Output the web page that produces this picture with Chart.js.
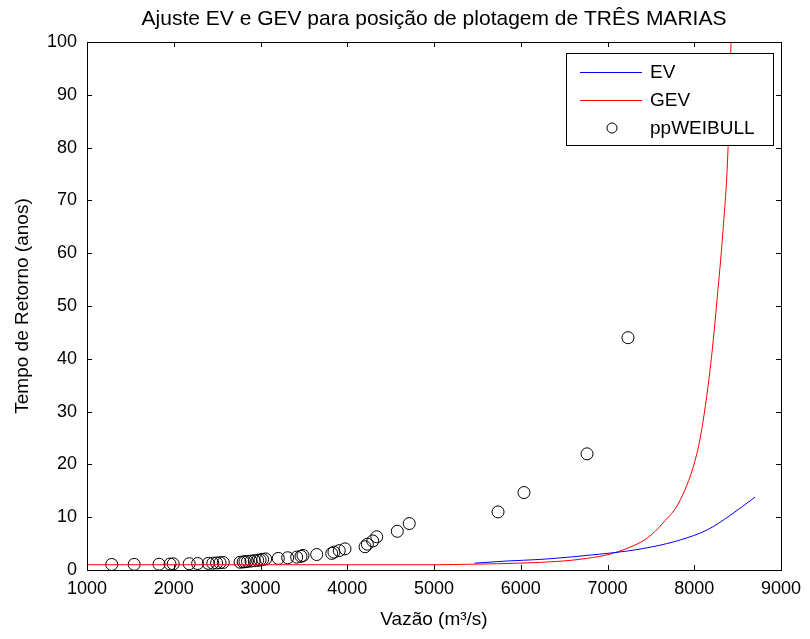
<!DOCTYPE html>
<html>
<head>
<meta charset="utf-8">
<script src="https://cdn.jsdelivr.net/npm/chart.js@4.4.1/dist/chart.umd.min.js"></script>
<style>
  html, body { margin: 0; padding: 0; background: #fff; }
  #wrap { width: 810px; height: 639px; }
</style>
</head>
<body>
<div id="wrap"><canvas id="chart" width="810" height="639"></canvas></div>
<script>
// x ticks / y ticks
const xTicks = [1000, 2000, 3000, 4000, 5000, 6000, 7000, 8000, 9000];
const yTicks = [0, 10, 20, 30, 40, 50, 60, 70, 80, 90, 100];

// EV fit (vazao, tempo de retorno)
const evX = [5470, 5840, 6220, 6600, 6910, 7230, 7520, 7840, 8150, 8410, 8700];
const evT = [1.3, 1.7, 2.0, 2.5, 3.0, 3.6, 4.4, 5.7, 7.6, 10.3, 13.8];

// GEV fit
const gevX = [1000, 5000, 5450, 5990, 6490, 6760, 7030, 7225, 7455, 7640, 7840, 8033, 8100, 8158, 8210, 8262, 8330, 8390, 8424, 8440];
const gevT = [1.0, 1.0, 1.1, 1.3, 1.7, 2.2, 3.0, 4.1, 6.0, 8.9, 13.3, 22.2, 28, 34.7, 42, 51.1, 64, 80, 100, 110];

// Weibull plotting positions
const ppX = [1285, 1544, 1830, 1957, 1994, 2178, 2275, 2398, 2450, 2494, 2533, 2571,
  2764, 2800, 2821, 2850, 2890, 2929, 2967, 2995, 3025, 3059, 3205, 3313, 3417,
  3467, 3490, 3648, 3821, 3847, 3908, 3974, 4205, 4232, 4294, 4340, 4577, 4715,
  5738, 6037, 6764, 7236];
const ppT = [1.05, 1.07, 1.1, 1.13, 1.16, 1.19, 1.22, 1.26, 1.29, 1.33, 1.375, 1.42,
  1.47, 1.52, 1.57, 1.63, 1.69, 1.76, 1.83, 1.91, 2.0, 2.1, 2.2, 2.32, 2.44,
  2.59, 2.75, 2.93, 3.14, 3.38, 3.67, 4.0, 4.4, 4.89, 5.5, 6.29, 7.33, 8.8,
  11, 14.67, 22, 44];

const TITLE = "Ajuste EV e GEV para posição de plotagem de TRÊS MARIAS";
const FONT = "Arial, 'Liberation Sans', sans-serif";

function pairs(xs, ys) {
  return xs.map((x, i) => ({ x: x, y: ys[i] }));
}

// MATLAB style box with inward ticks, centred title and boxed legend
const matlabBox = {
  id: "matlabBox",
  afterDatasetsDraw(chart) {
    const ctx = chart.ctx;
    const a = chart.chartArea;
    const xs = chart.scales.x;
    const ys = chart.scales.y;
    const tl = 5;
    ctx.save();
    ctx.strokeStyle = "#000";
    ctx.lineWidth = 1;
    ctx.beginPath();
    xTicks.forEach((v) => {
      const px = Math.round(xs.getPixelForValue(v)) + 0.5;
      ctx.moveTo(px, a.bottom); ctx.lineTo(px, a.bottom - tl);
      ctx.moveTo(px, a.top); ctx.lineTo(px, a.top + tl);
    });
    yTicks.forEach((v) => {
      const py = Math.round(ys.getPixelForValue(v)) + 0.5;
      ctx.moveTo(a.left, py); ctx.lineTo(a.left + tl, py);
      ctx.moveTo(a.right, py); ctx.lineTo(a.right - tl, py);
    });
    ctx.stroke();
    ctx.strokeRect(Math.round(a.left) + 0.5, Math.round(a.top) + 0.5,
      Math.round(a.right - a.left), Math.round(a.bottom - a.top));

    // title over the axes box
    ctx.fillStyle = "#000";
    ctx.font = "21px " + FONT;
    ctx.textAlign = "center";
    ctx.textBaseline = "middle";
    ctx.fillText(TITLE, (a.left + a.right) / 2, a.top - 23);

    // legend
    const lx = a.right - 215, ly = a.top + 11, lw = 207, lh = 92;
    ctx.fillStyle = "#fff";
    ctx.fillRect(lx, ly, lw, lh);
    ctx.strokeRect(lx + 0.5, ly + 0.5, lw, lh);
    const rows = chart.data.datasets;
    ctx.font = "19px " + FONT;
    ctx.textAlign = "left";
    rows.forEach((ds, i) => {
      const cy = ly + 19 + i * 28;
      if (ds.showLine) {
        ctx.strokeStyle = ds.borderColor;
        ctx.beginPath();
        ctx.moveTo(lx + 14, cy + 0.5);
        ctx.lineTo(lx + 76, cy + 0.5);
        ctx.stroke();
      } else {
        ctx.strokeStyle = "#000";
        ctx.beginPath();
        ctx.arc(lx + 46, cy, 5, 0, Math.PI * 2);
        ctx.stroke();
      }
      ctx.fillStyle = "#000";
      ctx.fillText(ds.label, lx + 84, cy + 1);
    });
    ctx.restore();
  },
};

new Chart(document.getElementById("chart"), {
  type: "scatter",
  data: {
    datasets: [
      {
        label: "EV",
        data: pairs(evX, evT),
        showLine: true,
        borderColor: "#0000ff",
        borderWidth: 1,
        pointRadius: 0,
        cubicInterpolationMode: "monotone",
      },
      {
        label: "GEV",
        data: pairs(gevX, gevT),
        showLine: true,
        borderColor: "#ff0000",
        borderWidth: 1,
        pointRadius: 0,
        cubicInterpolationMode: "monotone",
      },
      {
        label: "ppWEIBULL",
        data: pairs(ppX, ppT),
        showLine: false,
        borderColor: "#000",
        backgroundColor: "rgba(0,0,0,0)",
        borderWidth: 1,
        pointRadius: 6,
        pointStyle: "circle",
      },
    ],
  },
  options: {
    responsive: false,
    animation: false,
    layout: { padding: { top: 42, right: 29, bottom: 0, left: 0 } },
    plugins: {
      legend: { display: false },
      tooltip: { enabled: false },
      title: { display: false },
    },
    scales: {
      x: {
        type: "linear",
        min: 1000,
        max: 9000,
        afterFit: (s) => { s.height = 69; },
        afterBuildTicks: (s) => { s.ticks = xTicks.map((v) => ({ value: v })); },
        grid: { display: false, drawTicks: false },
        border: { display: false },
        ticks: {
          color: "#000",
          padding: 8,
          font: { size: 18, family: FONT },
          maxRotation: 0,
          callback: (v) => String(v),
        },
        title: {
          display: true,
          text: "Vazão (m³/s)",
          color: "#000",
          font: { size: 19, family: FONT },
          padding: { top: 0, bottom: 8 },
        },
      },
      y: {
        type: "linear",
        min: 0,
        max: 100,
        afterFit: (s) => { s.width = 87; },
        afterBuildTicks: (s) => { s.ticks = yTicks.map((v) => ({ value: v })); },
        grid: { display: false, drawTicks: false },
        border: { display: false },
        ticks: {
          color: "#000",
          padding: 10,
          font: { size: 18, family: FONT },
          callback: (v) => String(v),
        },
        title: {
          display: true,
          text: "Tempo de Retorno (anos)",
          color: "#000",
          font: { size: 19, family: FONT },
          padding: { top: 11, bottom: 0 },
        },
      },
    },
  },
  plugins: [matlabBox],
});
</script>
</body>
</html>
